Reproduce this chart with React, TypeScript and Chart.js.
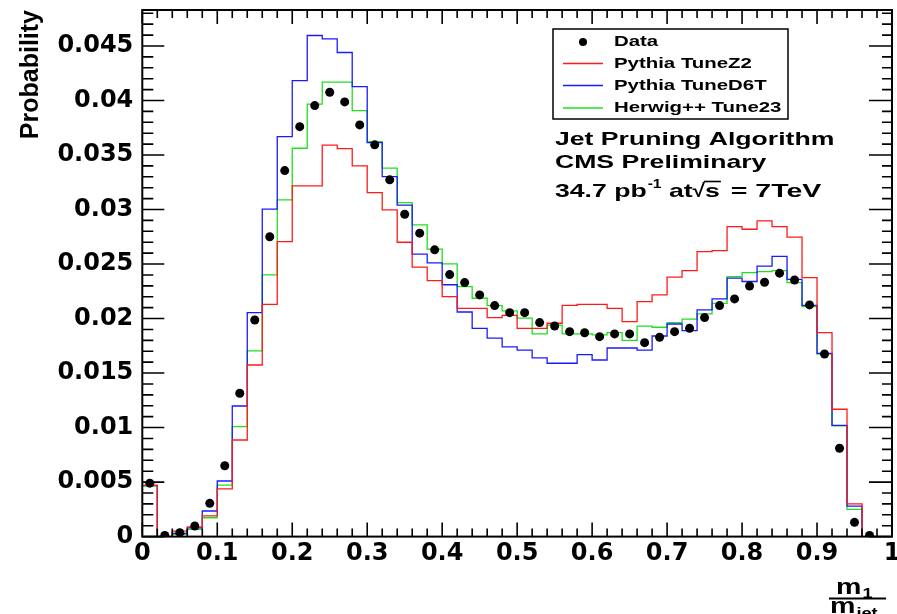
import React, { useEffect, useRef } from 'react';
import { Chart, registerables } from 'chart.js';

Chart.register(...registerables);

// ---- axis setup ----
const binWidth = 0.02;
const xMax = 1;
const yMax = 0.0483;
const xTickStep = 0.1;
const yTickStep = 0.005;
const yMinorStep = 0.001;

// ---- labels ----
const dataLabel = 'Data';
const seriesLabels = ['Pythia TuneZ2', 'Pythia TuneD6T', 'Herwig++ Tune23'];
const seriesColors = ['#ff1a1a', '#1a1aff', '#1ee01e'];
const yTitle = 'Probability';
const infoLines = ['Jet Pruning Algorithm', 'CMS Preliminary'];
const lumiParts = ['34.7 pb', '-1', ' at', '\u221A', 's', ' = 7TeV'];

// ---- values (one per 0.02 bin, 0..1) ----
const dataValues = [0.0049, 0.0001, 0.00036, 0.00097, 0.00305, 0.0065, 0.01315, 0.01987, 0.0275, 0.03357,
  0.0376, 0.03953, 0.04076, 0.03987, 0.03776, 0.03593, 0.03272, 0.02957, 0.02783, 0.0263,
  0.02403, 0.0233, 0.02217, 0.02119, 0.02054, 0.02054, 0.01963, 0.01932, 0.0188, 0.0187,
  0.01834, 0.01859, 0.01859, 0.01779, 0.01828, 0.0188, 0.01911, 0.02009, 0.02119, 0.0218,
  0.02299, 0.02333, 0.02416, 0.02354, 0.02125, 0.01675, 0.0081, 0.00131, 0.0001, null];

const tuneZ2 = [0.0047, 0, 0.0005, 0.0009, 0.0019, 0.00437, 0.00886, 0.01574, 0.0213, 0.02706,
  0.03217, 0.03217, 0.0359, 0.03559, 0.034, 0.03155, 0.02996, 0.027, 0.02471, 0.02348,
  0.02201, 0.02094, 0.02094, 0.02009, 0.0203, 0.0191, 0.0191, 0.01957, 0.0212, 0.0213,
  0.0213, 0.02094, 0.01972, 0.02155, 0.02217, 0.02379, 0.0244, 0.02614, 0.02623, 0.02843,
  0.02819, 0.02895, 0.02843, 0.02746, 0.02375, 0.0187, 0.01168, 0.003, 0, 0];

const tuneD6T = [0.0047, 0, 0.0003, 0.0008, 0.00235, 0.0051, 0.01198, 0.02054, 0.03003, 0.03669,
  0.04183, 0.04596, 0.04565, 0.0444, 0.04128, 0.03614, 0.03302, 0.0304, 0.0259, 0.0251,
  0.0231, 0.0206, 0.0191, 0.0182, 0.0174, 0.0171, 0.0164, 0.0159, 0.0159, 0.0167,
  0.0162, 0.0173, 0.0173, 0.0171, 0.0184, 0.0195, 0.0189, 0.0208, 0.0218, 0.0237,
  0.0234, 0.0248, 0.0257, 0.0236, 0.0212, 0.0168, 0.0102, 0.0028, 0, 0];

const herwig23 = [0.00464, 0, 0.0002, 0.00067, 0.00173, 0.00473, 0.01008, 0.01703, 0.024, 0.03088,
  0.03562, 0.03966, 0.04168, 0.04168, 0.03907, 0.03623, 0.03379, 0.03064, 0.02859, 0.02636,
  0.02501, 0.02293, 0.02186, 0.02119, 0.0207, 0.02003, 0.01859, 0.0194, 0.01859, 0.01859,
  0.0185, 0.0187, 0.018, 0.0193, 0.0192, 0.01963, 0.01994, 0.02042, 0.0214, 0.02384,
  0.02421, 0.0243, 0.0244, 0.0233, 0.0211, 0.01675, 0.01015, 0.0025, 0, 0];

function histPoints(values: number[]) {
  const pts: { x: number; y: number }[] = [{ x: 0, y: 0 }];
  values.forEach((v, i) => pts.push({ x: i * binWidth, y: v }));
  pts.push({ x: xMax, y: 0 });
  return pts;
}

function centerPoints(values: (number | null)[]) {
  const pts: { x: number; y: number }[] = [];
  values.forEach((v, i) => {
    if (v !== null) pts.push({ x: (i + 0.5) * binWidth, y: v });
  });
  return pts;
}

function stretchText(ctx: CanvasRenderingContext2D, text: string, x: number, y: number, font: string, sx: number, baseline: CanvasTextBaseline = 'alphabetic') {
  ctx.save();
  ctx.font = font;
  ctx.textAlign = 'left';
  ctx.textBaseline = baseline;
  const w = ctx.measureText(text).width * sx;
  ctx.translate(x, y);
  ctx.scale(sx, 1);
  ctx.fillText(text, 0, 0);
  ctx.restore();
  return w;
}

const rootPlugin = {
  id: 'rootStyle',
  afterDraw(chart: any) {
    const ctx: CanvasRenderingContext2D = chart.ctx;
    const { left, right, top, bottom } = chart.chartArea;
    const xs = chart.scales.x;
    const ys = chart.scales.y;
    ctx.save();
    ctx.strokeStyle = '#000';
    ctx.fillStyle = '#000';
    // ticks inside the frame
    ctx.lineWidth = 1.6;
    ctx.beginPath();
    const nx = Math.round(xMax / binWidth);
    for (let k = 0; k <= nx; k++) {
      const px = xs.getPixelForValue(k * binWidth);
      const len = k % 5 === 0 ? 14 : 8;
      ctx.moveTo(px, bottom); ctx.lineTo(px, bottom - len);
      ctx.moveTo(px, top); ctx.lineTo(px, top + len);
    }
    const ny = Math.floor(yMax / yMinorStep + 1e-9);
    for (let k = 0; k <= ny; k++) {
      const py = ys.getPixelForValue(k * yMinorStep);
      const major = k % 5 === 0;
      ctx.moveTo(left, py); ctx.lineTo(left + (major ? 22 : 11), py);
      ctx.moveTo(right, py); ctx.lineTo(right - (major ? 23 : 10), py);
    }
    ctx.stroke();
    ctx.lineWidth = 2;
    ctx.strokeRect(left, top, right - left, bottom - top);

    // legend
    const lx = 553, ly = 29, lw = 235, lh = 90;
    ctx.fillStyle = '#fff';
    ctx.fillRect(lx, ly, lw, lh);
    ctx.lineWidth = 1.5;
    ctx.strokeStyle = '#000';
    ctx.strokeRect(lx, ly, lw, lh);
    const rowY = [42, 63.5, 85.5, 108];
    const lfont = 'bold 15px "Liberation Sans", Arial, sans-serif';
    ctx.fillStyle = '#000';
    ctx.beginPath();
    ctx.arc(583, rowY[0], 4, 0, Math.PI * 2);
    ctx.fill();
    stretchText(ctx, dataLabel, 614, rowY[0], lfont, 1.36, 'middle');
    seriesLabels.forEach((lab, i) => {
      const y = rowY[i + 1];
      ctx.strokeStyle = seriesColors[i];
      ctx.lineWidth = 1.3;
      ctx.beginPath();
      ctx.moveTo(563, y); ctx.lineTo(603, y);
      ctx.stroke();
      ctx.fillStyle = '#000';
      stretchText(ctx, lab, 614, y, lfont, 1.36, 'middle');
    });

    // info text
    const ifont = 'bold 19px "Liberation Sans", Arial, sans-serif';
    const sx = 1.4;
    ctx.fillStyle = '#000';
    stretchText(ctx, infoLines[0], 555, 145, ifont, sx);
    stretchText(ctx, infoLines[1], 555, 168, ifont, sx);
    let cx = 555;
    const by = 197;
    cx += stretchText(ctx, lumiParts[0], cx, by, ifont, sx);
    cx += 1;
    cx += stretchText(ctx, lumiParts[1], cx, by - 9, 'bold 12px "Liberation Sans", Arial, sans-serif', 1.3);
    cx += stretchText(ctx, lumiParts[2], cx, by, ifont, sx);
    cx += stretchText(ctx, lumiParts[3], cx, by, ifont, 1.2);
    const sStart = cx;
    cx += stretchText(ctx, lumiParts[4], cx, by, ifont, sx);
    ctx.strokeStyle = '#000';
    ctx.lineWidth = 1.6;
    ctx.beginPath();
    ctx.moveTo(sStart - 1, by - 15.5);
    ctx.lineTo(cx + 1, by - 15.5);
    ctx.stroke();
    cx += 3;
    stretchText(ctx, lumiParts[5], cx, by, ifont, 1.5);

    // x-axis title: m1 / mjet
    const mfont = 'bold 22px "Liberation Sans", Arial, sans-serif';
    const subfont = 'bold 14px "Liberation Sans", Arial, sans-serif';
    let nx0 = 836;
    nx0 += stretchText(ctx, 'm', nx0, 594, mfont, 1.3);
    stretchText(ctx, '1', nx0 + 1, 598, subfont, 1.3);
    ctx.lineWidth = 2;
    ctx.beginPath();
    ctx.moveTo(829, 598.5); ctx.lineTo(886, 598.5);
    ctx.stroke();
    let dx0 = 830;
    dx0 += stretchText(ctx, 'm', dx0, 613, mfont, 1.3);
    stretchText(ctx, 'jet', dx0 + 1, 618, subfont, 1.3);
    ctx.restore();
  },
};

export default function App() {
  const ref = useRef<HTMLCanvasElement>(null);
  useEffect(() => {
    const canvas = ref.current;
    if (!canvas) return;
    const tickFont = { family: '"DejaVu Sans", sans-serif', size: 24, weight: 'bold' as const };
    const chart = new Chart(canvas, {
      type: 'scatter',
      data: {
        datasets: [
          {
            label: dataLabel,
            data: centerPoints(dataValues),
            showLine: false,
            pointRadius: 4.5,
            pointHoverRadius: 4.5,
            pointBackgroundColor: '#000',
            pointBorderWidth: 0,
            backgroundColor: '#000',
            borderColor: '#000',
          },
          ...[tuneZ2, tuneD6T, herwig23].map((vals, i) => ({
            label: seriesLabels[i],
            data: histPoints(vals),
            showLine: true,
            stepped: true as const,
            pointRadius: 0,
            borderWidth: 1.3,
            borderColor: seriesColors[i],
            backgroundColor: seriesColors[i],
            fill: false,
            tension: 0,
          })),
        ],
      },
      options: {
        animation: false,
        responsive: false,
        devicePixelRatio: 1,
        events: [],
        layout: { padding: { top: 10, right: 5, left: 0, bottom: 0 } },
        plugins: { legend: { display: false }, tooltip: { enabled: false }, title: { display: false } },
        scales: {
          x: {
            type: 'linear',
            min: 0,
            max: xMax,
            grid: { display: false, drawTicks: false },
            border: { display: false },
            ticks: {
              stepSize: xTickStep,
              autoSkip: false,
              maxRotation: 0,
              padding: 3,
              color: '#000',
              font: tickFont,
              callback: (v: any) => String(Number(Number(v).toFixed(2))),
            },
            afterFit: (scale: any) => {
              scale.height = 77.4;
              scale.paddingLeft = 0;
              scale.paddingRight = 0;
            },
          },
          y: {
            type: 'linear',
            min: 0,
            max: yMax,
            grid: { display: false, drawTicks: false },
            border: { display: false },
            title: {
              display: true,
              text: yTitle,
              align: 'end',
              color: '#000',
              font: { family: '"Liberation Sans", Arial, sans-serif', size: 25, weight: 'bold', lineHeight: 1.2 },
              padding: { top: 16, bottom: 0 },
            },
            ticks: {
              stepSize: yTickStep,
              includeBounds: false,
              padding: 9,
              color: '#000',
              font: tickFont,
              callback: (v: any) => String(Number(Number(v).toFixed(3))),
            },
            afterFit: (scale: any) => {
              scale.width = 142.3;
              scale.paddingTop = 0;
              scale.paddingBottom = 0;
            },
          },
        },
      },
      plugins: [rootPlugin],
    } as any);
    return () => chart.destroy();
  }, []);
  return (
    <div style={{ position: 'absolute', left: 0, top: 0, width: 897, height: 614, background: '#fff', overflow: 'hidden' }}>
      <canvas ref={ref} width={897} height={614} style={{ display: 'block', width: 897, height: 614 }} />
    </div>
  );
}
